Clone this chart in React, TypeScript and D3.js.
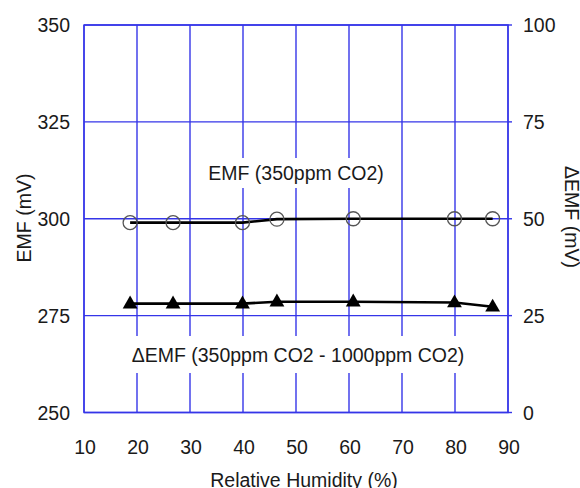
import React from "react";
import * as d3 from "d3";

const humidity = [18.7, 26.8, 39.9, 46.4, 60.8, 79.9, 87.1];
const emf = [299.0, 299.0, 299.0, 299.9, 300.0, 300.0, 300.0];
const deltaEmf = [28.1, 28.1, 28.1, 28.6, 28.6, 28.4, 27.3];
const xTicks = [10, 20, 30, 40, 50, 60, 70, 80, 90];
const yLeftTicks = [250, 275, 300, 325, 350];
const yRightTicks = [0, 25, 50, 75, 100];

const W = 580, H = 488;
const L = 84, R = 508, T = 25, B = 412.5;
const GRID = "#3535e8";
const FONT = "'Liberation Sans', Arial, sans-serif";
const FS = 19.5;

export default function App() {
  const x = d3.scaleLinear().domain([10, 90]).range([L, R]);
  const yL = d3.scaleLinear().domain([250, 350]).range([B, T]);
  const yR = d3.scaleLinear().domain([0, 100]).range([B, T]);
  const emfPath = d3.line<number>().x((_, i) => x(humidity[i])).y((d) => yL(d))(emf) || "";
  const dPath = d3.line<number>().x((_, i) => x(humidity[i])).y((d) => yR(d))(deltaEmf) || "";
  const tri = d3.symbol().type(d3.symbolTriangle).size(95)() || "";

  return (
    <svg width={W} height={H} style={{ position: "absolute", left: 0, top: 0 }} fontFamily={FONT}>
      <rect width={W} height={H} fill="#fff" />
      {xTicks.map((t) => (
        <line key={"vx" + t} x1={x(t)} x2={x(t)} y1={T} y2={B} stroke={GRID} strokeWidth={1.4} />
      ))}
      {yLeftTicks.map((t) => (
        <line key={"hy" + t} x1={L} x2={R} y1={yL(t)} y2={yL(t)} stroke={GRID} strokeWidth={1.4} />
      ))}
      {yRightTicks.map((t) => (
        <line key={"rt" + t} x1={R} x2={R + 4} y1={yR(t)} y2={yR(t)} stroke={GRID} strokeWidth={1.4} />
      ))}
      <rect x={L} y={T} width={R - L} height={B - T} fill="none" stroke={GRID} strokeWidth={1.4} />
      <rect x={200} y={158} width={192} height={30} fill="#fff" />
      <rect x={130} y={336} width={337} height={37} fill="#fff" />
      <text x={296} y={180} textAnchor="middle" fontSize={FS} fill="#1a1a1a">EMF (350ppm CO2)</text>
      <text x={298} y={362} textAnchor="middle" fontSize={FS} fill="#1a1a1a">ΔEMF (350ppm CO2 - 1000ppm CO2)</text>

      <path d={emfPath} fill="none" stroke="#000" strokeWidth={2.6} />
      {humidity.map((h, i) => (
        <circle key={"c" + i} cx={x(h)} cy={yL(emf[i])} r={7} fill="none" stroke="#555" strokeWidth={1.3} />
      ))}
      <path d={dPath} fill="none" stroke="#000" strokeWidth={2.6} />
      {humidity.map((h, i) => (
        <path key={"t" + i} d={tri} transform={`translate(${x(h)},${yR(deltaEmf[i]) + 0.5})`} fill="#000" />
      ))}

      {yLeftTicks.map((t) => (
        <text key={"ly" + t} x={70} y={yL(t)} dy="0.36em" textAnchor="end" fontSize={FS} fill="#1a1a1a">{t}</text>
      ))}
      {yRightTicks.map((t) => (
        <text key={"ry" + t} x={523} y={yR(t)} dy="0.36em" textAnchor="start" fontSize={FS} fill="#1a1a1a">{t}</text>
      ))}
      {xTicks.map((t) => (
        <text key={"lx" + t} x={x(t) + 1} y={454} textAnchor="middle" fontSize={FS} fill="#1a1a1a">{t}</text>
      ))}
      <text x={304} y={487} textAnchor="middle" fontSize={FS} fill="#1a1a1a">Relative Humidity (%)</text>
      <text transform={`translate(30.5,218) rotate(-90)`} textAnchor="middle" fontSize={FS} fill="#1a1a1a">EMF (mV)</text>
      <text transform={`translate(564.5,217) rotate(90)`} textAnchor="middle" fontSize={FS} fill="#1a1a1a">ΔEMF (mV)</text>
    </svg>
  );
}
